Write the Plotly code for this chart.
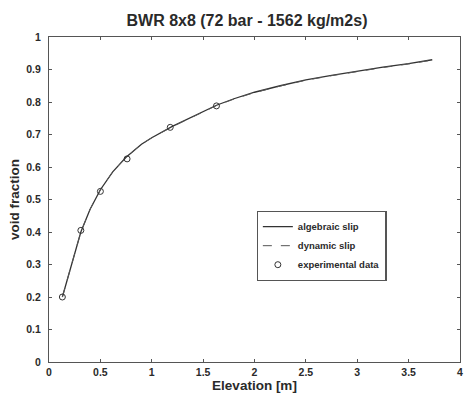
import plotly.graph_objects as go

# Model predictions along the channel (elevation in m, void fraction)
model_z = [0.13, 0.20, 0.31, 0.40, 0.50, 0.62, 0.75, 0.90, 1.00, 1.20, 1.40, 1.63, 1.80, 2.00, 2.25, 2.50, 2.75, 3.00, 3.25, 3.50, 3.73]
algebraic_alpha = [0.20, 0.28, 0.40, 0.47, 0.53, 0.585, 0.63, 0.67, 0.69, 0.725, 0.755, 0.79, 0.81, 0.83, 0.85, 0.868, 0.882, 0.895, 0.907, 0.918, 0.93]
dynamic_alpha = [0.20, 0.28, 0.40, 0.47, 0.53, 0.585, 0.63, 0.67, 0.69, 0.724, 0.754, 0.789, 0.809, 0.829, 0.849, 0.867, 0.881, 0.894, 0.906, 0.917, 0.929]

# Measured void fraction
exp_z = [0.13, 0.31, 0.50, 0.76, 1.18, 1.63]
exp_alpha = [0.20, 0.405, 0.525, 0.625, 0.722, 0.788]

x_ticks = [0, 0.5, 1, 1.5, 2, 2.5, 3, 3.5, 4]
x_tick_text = ["0", "0.5", "1", "1.5", "2", "2.5", "3", "3.5", "4"]
y_ticks = [0, 0.1, 0.2, 0.3, 0.4, 0.5, 0.6, 0.7, 0.8, 0.9, 1]
y_tick_text = ["0", "0.1", "0.2", "0.3", "0.4", "0.5", "0.6", "0.7", "0.8", "0.9", "1"]

font = "Liberation Sans, Arial, sans-serif"
ink = "#2a2a2a"

fig = go.Figure()
fig.add_trace(go.Scatter(x=model_z, y=algebraic_alpha, mode="lines", name="algebraic slip",
                         line=dict(color="#333333", width=1.3)))
fig.add_trace(go.Scatter(x=model_z, y=dynamic_alpha, mode="lines", name="dynamic slip",
                         line=dict(color="#555555", width=1, dash="dash")))
fig.add_trace(go.Scatter(x=exp_z, y=exp_alpha, mode="markers", name="experimental data",
                         marker=dict(symbol="circle-open", size=6, color="#333333",
                                     line=dict(width=1, color="#333333"))))

axis_common = dict(showgrid=False, zeroline=False, showline=True, linecolor="#555555", linewidth=1.3,
                   mirror="ticks", ticks="inside", ticklen=3, tickcolor="#555555",
                   ticklabeloverflow="allow",
                   tickfont=dict(family=font, size=10.5, color=ink, weight="bold"))

fig.update_layout(
    width=466, height=404,
    margin=dict(l=49, r=3, t=37, b=42),
    paper_bgcolor="white", plot_bgcolor="white",
    title=dict(text="BWR 8x8 (72 bar - 1562 kg/m2s)", x=0.53, xanchor="center", y=0.95, yanchor="middle",
               font=dict(family=font, size=16, color=ink, weight="bold")),
    xaxis=dict(range=[0, 4], tickvals=x_ticks, ticktext=x_tick_text,
               title=dict(text="Elevation [m]", font=dict(family=font, size=13.5, color=ink, weight="bold"), standoff=3),
               **axis_common),
    yaxis=dict(range=[0, 1], tickvals=y_ticks, ticktext=y_tick_text, ticklabelstandoff=5,
               title=dict(text="void fraction", font=dict(family=font, size=13.5, color=ink, weight="bold"), standoff=3),
               **axis_common),
    legend=dict(x=0.505, y=0.465, xanchor="left", yanchor="top",
                bgcolor="white", bordercolor="#555555", borderwidth=1.3,
                font=dict(family=font, size=9.5, color=ink, weight="bold"),
                itemwidth=30, tracegroupgap=0),
    showlegend=True,
)

fig.write_html("out.html")
